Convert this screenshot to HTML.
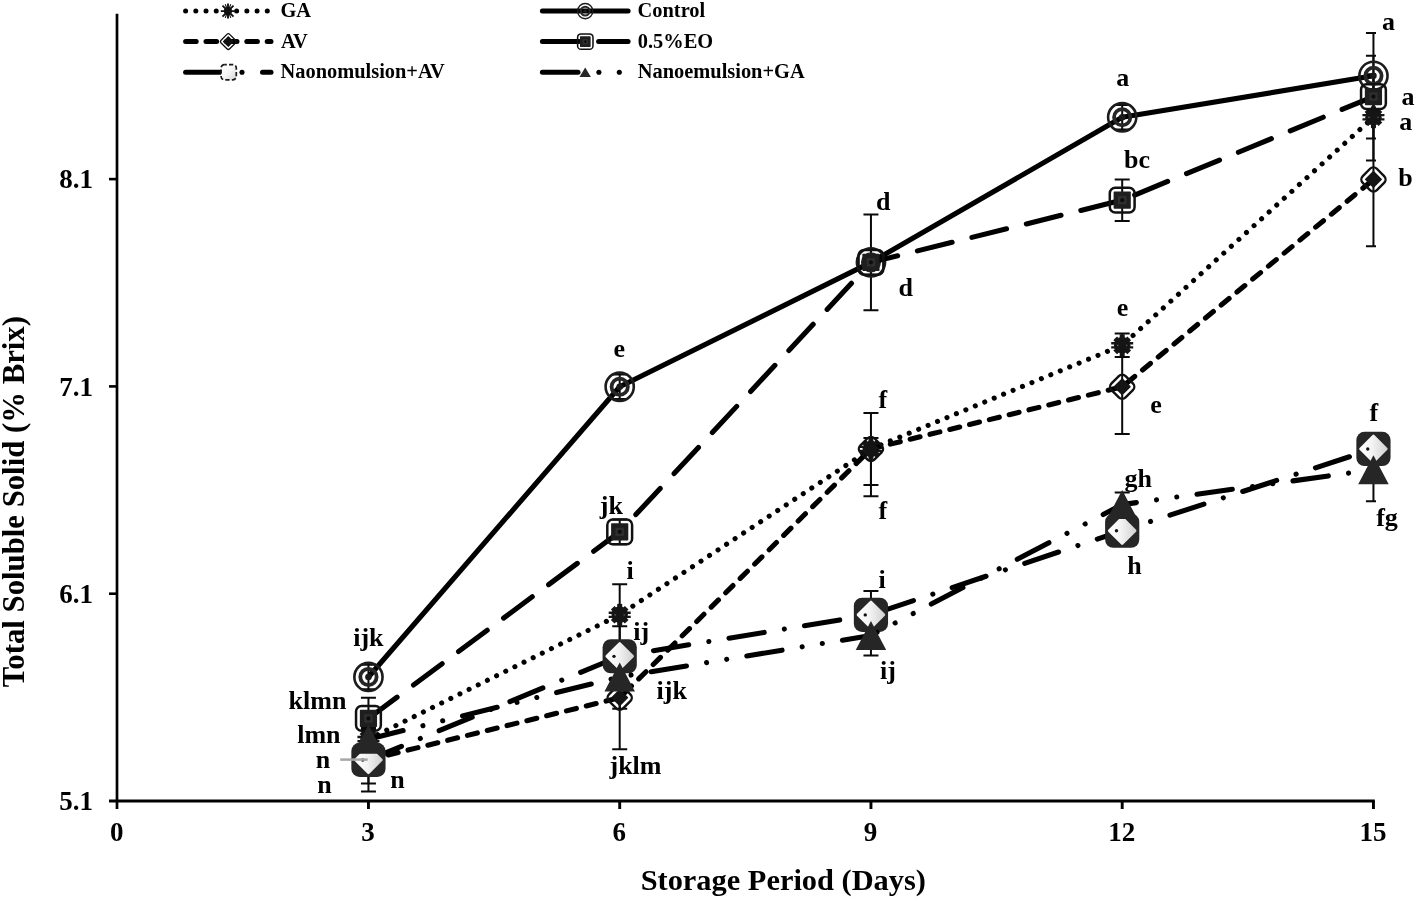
<!DOCTYPE html>
<html lang="en">
<head>
<meta charset="utf-8">
<title>Total Soluble Solid vs Storage Period</title>
<style>
html,body{margin:0;padding:0;background:#fff;}
body{width:1416px;height:900px;overflow:hidden;}
svg{display:block;will-change:transform;font-family:"Liberation Serif",serif;font-weight:bold;fill:#000;}
.tick{font-size:27px;}
.lab{font-size:26px;}
.leg{font-size:20.4px;}
.ttl{font-size:30.4px;}
</style>
</head>
<body>
<svg width="1416" height="900" viewBox="0 0 1416 900">
<defs>
<linearGradient id="dg" x1="0" y1="1" x2="1" y2="0"><stop offset="0" stop-color="#ffffff"/><stop offset="0.45" stop-color="#f4f4f4"/><stop offset="1" stop-color="#cfcfcf"/></linearGradient>
<linearGradient id="lg" x1="0" y1="0" x2="1" y2="1"><stop offset="0" stop-color="#ffffff"/><stop offset="0.5" stop-color="#f6f6f6"/><stop offset="1" stop-color="#d4d4d4"/></linearGradient>
<clipPath id="plot"><rect x="100" y="0" width="1276" height="830"/></clipPath>
</defs>

<g stroke="#000" fill="none">
<path d="M117 13.8V809" stroke-width="2.7"/>
<path d="M109 801H1374.8" stroke-width="3.2"/>
<path d="M109 179.1H117.2" stroke-width="2.6"/>
<path d="M109 386.4H117.2" stroke-width="2.6"/>
<path d="M109 593.7H117.2" stroke-width="2.6"/>
<path d="M368.45 801V809" stroke-width="2.9"/>
<path d="M619.7 801V809" stroke-width="2.9"/>
<path d="M870.95 801V809" stroke-width="2.9"/>
<path d="M1122.2 801V809" stroke-width="2.9"/>
<path d="M1373.45 801V809" stroke-width="2.9"/>
</g>
<g class="tick">
<text x="93" y="188.4" text-anchor="end">8.1</text>
<text x="93" y="395.7" text-anchor="end">7.1</text>
<text x="93" y="603" text-anchor="end">6.1</text>
<text x="93" y="810.3" text-anchor="end">5.1</text>
<text x="116.8" y="841" text-anchor="middle">0</text>
<text x="368.05" y="841" text-anchor="middle">3</text>
<text x="619.3" y="841" text-anchor="middle">6</text>
<text x="870.55" y="841" text-anchor="middle">9</text>
<text x="1121.8" y="841" text-anchor="middle">12</text>
<text x="1373.05" y="841" text-anchor="middle">15</text>
</g>
<text class="ttl" x="783.3" y="889.6" text-anchor="middle">Storage Period (Days)</text>
<text class="ttl" style="font-size:30.75px" transform="translate(23.6 501.7) rotate(-90)" text-anchor="middle">Total Soluble Solid (% Brix)</text>
<g stroke="#0a0a0a" stroke-width="2" fill="none" clip-path="url(#plot)">
<path d="M368.45 729.16V749.16M360.95 729.16H375.95M360.95 749.16H375.95"/>
<path d="M619.7 584.18V645.38M612.2 584.18H627.2M612.2 645.38H627.2"/>
<path d="M870.95 412.94V484.94M863.45 412.94H878.45M863.45 484.94H878.45"/>
<path d="M1122.2 333.49V357.09M1114.7 333.49H1129.7M1114.7 357.09H1129.7"/>
<path d="M1373.45 74.26V160.46M1365.95 74.26H1380.95M1365.95 160.46H1380.95"/>
<path d="M368.45 664.77V689.17M360.95 664.77H375.95M360.95 689.17H375.95"/>
<path d="M619.7 374.55V398.95M612.2 374.55H627.2M612.2 398.95H627.2"/>
<path d="M870.95 214.57V310.17M863.45 214.57H878.45M863.45 310.17H878.45"/>
<path d="M1122.2 105.06V129.46M1114.7 105.06H1129.7M1114.7 129.46H1129.7"/>
<path d="M1373.45 33.1V118.5M1365.95 33.1H1380.95M1365.95 118.5H1380.95"/>
<path d="M368.45 728.19V791.59M360.95 728.19H375.95M360.95 791.59H375.95"/>
<path d="M619.7 646.7V749.2M612.2 646.7H627.2M612.2 749.2H627.2"/>
<path d="M870.95 437.94V496.34M863.45 437.94H878.45M863.45 496.34H878.45"/>
<path d="M1122.2 339.45V434.05M1114.7 339.45H1129.7M1114.7 434.05H1129.7"/>
<path d="M1373.45 112.65V246.25M1365.95 112.65H1380.95M1365.95 246.25H1380.95"/>
<path d="M368.45 697.73V739.13M360.95 697.73H375.95M360.95 739.13H375.95"/>
<path d="M619.7 519.56V544.16M612.2 519.56H627.2M612.2 544.16H627.2"/>
<path d="M870.95 250.07V274.67M863.45 250.07H878.45M863.45 274.67H878.45"/>
<path d="M1122.2 179.38V220.98M1114.7 179.38H1129.7M1114.7 220.98H1129.7"/>
<path d="M1373.45 55.73V138.53M1365.95 55.73H1380.95M1365.95 138.53H1380.95"/>
<path d="M368.45 736.19V783.59M360.95 736.19H375.95M360.95 783.59H375.95"/>
<path d="M619.7 626.24V686.24M612.2 626.24H627.2M612.2 686.24H627.2"/>
<path d="M870.95 591.08V638.48M863.45 591.08H878.45M863.45 638.48H878.45"/>
<path d="M1122.2 520.72V540.72M1114.7 520.72H1129.7M1114.7 540.72H1129.7"/>
<path d="M1373.45 438.94V458.94M1365.95 438.94H1380.95M1365.95 458.94H1380.95"/>
<path d="M368.45 727.16V751.16M360.95 727.16H375.95M360.95 751.16H375.95"/>
<path d="M619.7 664.97V708.77M612.2 664.97H627.2M612.2 708.77H627.2"/>
<path d="M870.95 623.51V655.51M863.45 623.51H878.45M863.45 655.51H878.45"/>
<path d="M1122.2 492.6V516.6M1114.7 492.6H1129.7M1114.7 516.6H1129.7"/>
<path d="M1373.45 457.67V501.37M1365.95 457.67H1380.95M1365.95 501.37H1380.95"/>
</g>
<polyline points="368.45,739.16 619.7,614.78 870.95,448.94 1122.2,345.29 1373.45,117.26" fill="none" stroke="#000" stroke-width="5.1" stroke-linecap="round" stroke-linejoin="round" stroke-dasharray="0.01 10.2"/>
<g transform="translate(368.45 739.16)"><circle r="8.2" fill="#151515"/><rect x="-2.5" y="-10.9" width="5" height="21.8" fill="#151515"/><path d="M-11-3.3H11V-0.9H-11ZM-11 0.9H11V3.3H-11Z" fill="#151515"/><path d="M-7-7L7 7M-7 7L7-7" stroke="#151515" stroke-width="5.2" fill="none"/><rect x="-5.2" y="-0.6" width="1.4" height="1.4" fill="#666"/><rect x="3.8" y="-0.6" width="1.4" height="1.4" fill="#555"/></g>
<g transform="translate(619.7 614.78)"><circle r="8.2" fill="#151515"/><rect x="-2.5" y="-10.9" width="5" height="21.8" fill="#151515"/><path d="M-11-3.3H11V-0.9H-11ZM-11 0.9H11V3.3H-11Z" fill="#151515"/><path d="M-7-7L7 7M-7 7L7-7" stroke="#151515" stroke-width="5.2" fill="none"/><rect x="-5.2" y="-0.6" width="1.4" height="1.4" fill="#666"/><rect x="3.8" y="-0.6" width="1.4" height="1.4" fill="#555"/></g>
<g transform="translate(870.95 448.94)"><circle r="8.2" fill="#151515"/><rect x="-2.5" y="-10.9" width="5" height="21.8" fill="#151515"/><path d="M-11-3.3H11V-0.9H-11ZM-11 0.9H11V3.3H-11Z" fill="#151515"/><path d="M-7-7L7 7M-7 7L7-7" stroke="#151515" stroke-width="5.2" fill="none"/><rect x="-5.2" y="-0.6" width="1.4" height="1.4" fill="#666"/><rect x="3.8" y="-0.6" width="1.4" height="1.4" fill="#555"/></g>
<g transform="translate(1122.2 345.29)"><circle r="8.2" fill="#151515"/><rect x="-2.5" y="-10.9" width="5" height="21.8" fill="#151515"/><path d="M-11-3.3H11V-0.9H-11ZM-11 0.9H11V3.3H-11Z" fill="#151515"/><path d="M-7-7L7 7M-7 7L7-7" stroke="#151515" stroke-width="5.2" fill="none"/><rect x="-5.2" y="-0.6" width="1.4" height="1.4" fill="#666"/><rect x="3.8" y="-0.6" width="1.4" height="1.4" fill="#555"/></g>
<g transform="translate(1373.45 117.26)"><circle r="8.2" fill="#151515"/><rect x="-2.5" y="-10.9" width="5" height="21.8" fill="#151515"/><path d="M-11-3.3H11V-0.9H-11ZM-11 0.9H11V3.3H-11Z" fill="#151515"/><path d="M-7-7L7 7M-7 7L7-7" stroke="#151515" stroke-width="5.2" fill="none"/><rect x="-5.2" y="-0.6" width="1.4" height="1.4" fill="#666"/><rect x="3.8" y="-0.6" width="1.4" height="1.4" fill="#555"/></g>
<polyline points="368.45,676.97 619.7,386.75 870.95,262.37 1122.2,117.26 1373.45,75.8" fill="none" stroke="#000" stroke-width="5.1" stroke-linecap="round" stroke-linejoin="round"/>
<g transform="translate(368.45 676.97)"><circle r="14.1" fill="none" stroke="#1c1c1c" stroke-width="2.6"/><circle r="8.15" fill="none" stroke="#262626" stroke-width="3.8"/><circle r="3.3" fill="#1a1a1a"/></g>
<g transform="translate(619.7 386.75)"><circle r="14.1" fill="none" stroke="#1c1c1c" stroke-width="2.6"/><circle r="8.15" fill="none" stroke="#262626" stroke-width="3.8"/><circle r="3.3" fill="#1a1a1a"/></g>
<g transform="translate(870.95 262.37)"><circle r="14.1" fill="none" stroke="#1c1c1c" stroke-width="2.6"/><circle r="8.15" fill="none" stroke="#262626" stroke-width="3.8"/><circle r="3.3" fill="#1a1a1a"/></g>
<g transform="translate(1122.2 117.26)"><circle r="14.1" fill="none" stroke="#1c1c1c" stroke-width="2.6"/><circle r="8.15" fill="none" stroke="#262626" stroke-width="3.8"/><circle r="3.3" fill="#1a1a1a"/></g>
<g transform="translate(1373.45 75.8)"><circle r="14.1" fill="none" stroke="#1c1c1c" stroke-width="2.6"/><circle r="8.15" fill="none" stroke="#262626" stroke-width="3.8"/><circle r="3.3" fill="#1a1a1a"/></g>
<polyline points="368.45,759.89 619.7,697.7 870.95,448.94 1122.2,386.75 1373.45,179.45" fill="none" stroke="#000" stroke-width="5.1" stroke-linecap="round" stroke-linejoin="round" stroke-dasharray="10.2 10.2"/>
<g transform="translate(368.45 759.89)"><rect x="-9.95" y="-9.95" width="19.9" height="19.9" rx="4.8" transform="rotate(45)" fill="none" stroke="#111" stroke-width="2.4"/><rect x="-6.2" y="-6.2" width="12.4" height="12.4" rx="0.6" transform="rotate(45)" fill="#141414"/></g>
<g transform="translate(619.7 697.7)"><rect x="-9.95" y="-9.95" width="19.9" height="19.9" rx="4.8" transform="rotate(45)" fill="none" stroke="#111" stroke-width="2.4"/><rect x="-6.2" y="-6.2" width="12.4" height="12.4" rx="0.6" transform="rotate(45)" fill="#141414"/></g>
<g transform="translate(870.95 448.94)"><rect x="-9.95" y="-9.95" width="19.9" height="19.9" rx="4.8" transform="rotate(45)" fill="none" stroke="#111" stroke-width="2.4"/><rect x="-6.2" y="-6.2" width="12.4" height="12.4" rx="0.6" transform="rotate(45)" fill="#141414"/></g>
<g transform="translate(1122.2 386.75)"><rect x="-9.95" y="-9.95" width="19.9" height="19.9" rx="4.8" transform="rotate(45)" fill="none" stroke="#111" stroke-width="2.4"/><rect x="-6.2" y="-6.2" width="12.4" height="12.4" rx="0.6" transform="rotate(45)" fill="#141414"/></g>
<g transform="translate(1373.45 179.45)"><rect x="-9.95" y="-9.95" width="19.9" height="19.9" rx="4.8" transform="rotate(45)" fill="none" stroke="#111" stroke-width="2.4"/><rect x="-6.2" y="-6.2" width="12.4" height="12.4" rx="0.6" transform="rotate(45)" fill="#141414"/></g>
<polyline points="368.45,718.43 619.7,531.86 870.95,262.37 1122.2,200.18 1373.45,96.53" fill="none" stroke="#000" stroke-width="5.1" stroke-linecap="round" stroke-linejoin="round" stroke-dasharray="35.7 20.4"/>
<g transform="translate(368.45 718.43)"><rect x="-12.4" y="-12.4" width="24.8" height="24.8" rx="5.5" fill="none" stroke="#111" stroke-width="2.5"/><rect x="-8.6" y="-8.6" width="17.2" height="17.2" rx="0.8" fill="#1e1e1e"/><rect x="-4.2" y="-4.2" width="8.4" height="8.4" fill="#2e2e2e"/><circle r="2.1" fill="#0c0c0c"/></g>
<g transform="translate(619.7 531.86)"><rect x="-12.4" y="-12.4" width="24.8" height="24.8" rx="5.5" fill="none" stroke="#111" stroke-width="2.5"/><rect x="-8.6" y="-8.6" width="17.2" height="17.2" rx="0.8" fill="#1e1e1e"/><rect x="-4.2" y="-4.2" width="8.4" height="8.4" fill="#2e2e2e"/><circle r="2.1" fill="#0c0c0c"/></g>
<g transform="translate(870.95 262.37)"><rect x="-12.4" y="-12.4" width="24.8" height="24.8" rx="5.5" fill="none" stroke="#111" stroke-width="2.5"/><rect x="-8.6" y="-8.6" width="17.2" height="17.2" rx="0.8" fill="#1e1e1e"/><rect x="-4.2" y="-4.2" width="8.4" height="8.4" fill="#2e2e2e"/><circle r="2.1" fill="#0c0c0c"/></g>
<g transform="translate(1122.2 200.18)"><rect x="-12.4" y="-12.4" width="24.8" height="24.8" rx="5.5" fill="none" stroke="#111" stroke-width="2.5"/><rect x="-8.6" y="-8.6" width="17.2" height="17.2" rx="0.8" fill="#1e1e1e"/><rect x="-4.2" y="-4.2" width="8.4" height="8.4" fill="#2e2e2e"/><circle r="2.1" fill="#0c0c0c"/></g>
<g transform="translate(1373.45 96.53)"><rect x="-12.4" y="-12.4" width="24.8" height="24.8" rx="5.5" fill="none" stroke="#111" stroke-width="2.5"/><rect x="-8.6" y="-8.6" width="17.2" height="17.2" rx="0.8" fill="#1e1e1e"/><rect x="-4.2" y="-4.2" width="8.4" height="8.4" fill="#2e2e2e"/><circle r="2.1" fill="#0c0c0c"/></g>
<polyline points="368.45,759.89 619.7,656.24 870.95,614.78 1122.2,530.72 1373.45,448.94" fill="none" stroke="#000" stroke-width="5.1" stroke-linecap="round" stroke-linejoin="round" stroke-dasharray="35.7 20.4 0.01 20.4"/>
<g transform="translate(368.45 759.89)"><rect x="-17.1" y="-17.1" width="34.2" height="34.2" rx="8.2" fill="#262626"/><rect x="-10.45" y="-10.45" width="20.9" height="20.9" rx="1.3" transform="rotate(45)" fill="url(#dg)"/><circle cx="-5.7" cy="0.1" r="1.7" fill="#111"/></g>
<g transform="translate(619.7 656.24)"><rect x="-17.1" y="-17.1" width="34.2" height="34.2" rx="8.2" fill="#262626"/><rect x="-10.45" y="-10.45" width="20.9" height="20.9" rx="1.3" transform="rotate(45)" fill="url(#dg)"/><circle cx="-5.7" cy="0.1" r="1.7" fill="#111"/></g>
<g transform="translate(870.95 614.78)"><rect x="-17.1" y="-17.1" width="34.2" height="34.2" rx="8.2" fill="#262626"/><rect x="-10.45" y="-10.45" width="20.9" height="20.9" rx="1.3" transform="rotate(45)" fill="url(#dg)"/><circle cx="-5.7" cy="0.1" r="1.7" fill="#111"/></g>
<g transform="translate(1122.2 530.72)"><rect x="-17.1" y="-17.1" width="34.2" height="34.2" rx="8.2" fill="#262626"/><rect x="-10.45" y="-10.45" width="20.9" height="20.9" rx="1.3" transform="rotate(45)" fill="url(#dg)"/><circle cx="-5.7" cy="0.1" r="1.7" fill="#111"/></g>
<g transform="translate(1373.45 448.94)"><rect x="-17.1" y="-17.1" width="34.2" height="34.2" rx="8.2" fill="#262626"/><rect x="-10.45" y="-10.45" width="20.9" height="20.9" rx="1.3" transform="rotate(45)" fill="url(#dg)"/><circle cx="-5.7" cy="0.1" r="1.7" fill="#111"/></g>
<polyline points="368.45,739.16 619.7,676.97 870.95,635.51 1122.2,504.6 1373.45,469.67" fill="none" stroke="#000" stroke-width="5.1" stroke-linecap="round" stroke-linejoin="round" stroke-dasharray="35.7 20.4 0.01 20.4 0.01 20.4"/>
<g transform="translate(368.45 739.16)"><path d="M0-14.5L15.25 14.5H-15.25Z" fill="#262626"/></g>
<g transform="translate(619.7 676.97)"><path d="M0-14.5L15.25 14.5H-15.25Z" fill="#262626"/></g>
<g transform="translate(870.95 635.51)"><path d="M0-14.5L15.25 14.5H-15.25Z" fill="#262626"/></g>
<g transform="translate(1122.2 504.6)"><path d="M0-14.5L15.25 14.5H-15.25Z" fill="#262626"/></g>
<g transform="translate(1373.45 469.67)"><path d="M0-14.5L15.25 14.5H-15.25Z" fill="#262626"/></g>
<path d="M340.2 759.6H367.7" stroke="#a6a6a6" stroke-width="2.5" fill="none"/>
<g class="lab">
<text x="353.2" y="646.4">ijk</text>
<text x="288.6" y="709">klmn</text>
<text x="297.2" y="743">lmn</text>
<text x="315.8" y="768.4">n</text>
<text x="317.3" y="793">n</text>
<text x="390.3" y="788">n</text>
<text x="613.6" y="356.6">e</text>
<text x="599.8" y="513.9">jk</text>
<text x="626.4" y="579.2">i</text>
<text x="633.2" y="639.5">ij</text>
<text x="656.5" y="698.7">ijk</text>
<text x="609.5" y="774.4">jklm</text>
<text x="875.9" y="210">d</text>
<text x="898.6" y="296">d</text>
<text x="878.6" y="408.3">f</text>
<text x="878.6" y="518.5">f</text>
<text x="878.6" y="588">i</text>
<text x="880" y="678.5">ij</text>
<text x="1116.3" y="86.2">a</text>
<text x="1124" y="168.4">bc</text>
<text x="1116.8" y="316">e</text>
<text x="1150.2" y="413.3">e</text>
<text x="1124.6" y="486.7">gh</text>
<text x="1127.2" y="574.2">h</text>
<text x="1382" y="29.6">a</text>
<text x="1401.6" y="105.2">a</text>
<text x="1399.2" y="130">a</text>
<text x="1398.2" y="186">b</text>
<text x="1369.6" y="420.6">f</text>
<text x="1376.2" y="526">fg</text>
</g>
<g>
<path d="M185.6 11.1H267.5" fill="none" stroke="#000" stroke-width="5" stroke-linecap="round" stroke-dasharray="0.01 10.2"/>
<g transform="translate(228 11.1)" stroke="#111" stroke-width="1.9" fill="none"><circle r="4" fill="#111" stroke="none"/><path d="M0-7.5V7.5M-7.2 0H7.2M-5.5-5.5L5.5 5.5M-5.5 5.5L5.5-5.5"/><path stroke-width="1.1" d="M-2.8-6.8L2.8 6.8M2.8-6.8L-2.8 6.8"/></g>
<path d="M185.6 41.6H271" fill="none" stroke="#000" stroke-width="5" stroke-linecap="round" stroke-dasharray="10.6 9.8"/>
<g transform="translate(228.3 41.6)"><rect x="-6.1" y="-6.1" width="12.2" height="12.2" rx="2" transform="rotate(45)" fill="none" stroke="#111" stroke-width="1.3"/><rect x="-3.9" y="-3.9" width="7.8" height="7.8" rx="0.4" transform="rotate(45)" fill="#111"/></g>
<path d="M185.6 72.2H222" fill="none" stroke="#000" stroke-width="5" stroke-linecap="round"/>
<circle cx="242" cy="72.2" r="2.55" fill="#000"/>
<path d="M262.5 72.2H271" fill="none" stroke="#000" stroke-width="5" stroke-linecap="round"/>
<rect x="221.1" y="64.6" width="15.2" height="15.2" rx="3.4" fill="url(#lg)" stroke="#1a1a1a" stroke-width="1.7" stroke-dasharray="4.3 2.2" stroke-dashoffset="2"/>
<path d="M542.4 11.1H628.1" fill="none" stroke="#000" stroke-width="5" stroke-linecap="round"/>
<g transform="translate(585.2 11.1) scale(0.54)"><circle r="14.1" fill="none" stroke="#1c1c1c" stroke-width="2.6"/><circle r="8.15" fill="none" stroke="#262626" stroke-width="3.8"/><circle r="3.3" fill="#1a1a1a"/></g>
<path d="M542.4 41.6H579" fill="none" stroke="#000" stroke-width="5" stroke-linecap="round"/>
<path d="M598.6 41.6H628.1" fill="none" stroke="#000" stroke-width="5" stroke-linecap="round"/>
<g transform="translate(585.3 41.6) scale(0.62)"><rect x="-12.4" y="-12.4" width="24.8" height="24.8" rx="5.5" fill="none" stroke="#111" stroke-width="2.5"/><rect x="-8.6" y="-8.6" width="17.2" height="17.2" rx="0.8" fill="#1e1e1e"/><rect x="-4.2" y="-4.2" width="8.4" height="8.4" fill="#2e2e2e"/><circle r="2.1" fill="#0c0c0c"/></g>
<path d="M542.4 72.2H578" fill="none" stroke="#000" stroke-width="5" stroke-linecap="round"/>
<path d="M585.2 67.4L590.9 77H579.5Z" fill="#262626"/>
<circle cx="598.9" cy="72.2" r="2.55" fill="#000"/><circle cx="619.3" cy="72.2" r="2.55" fill="#000"/>
</g>
<g class="leg">
<text x="280.4" y="17.2">GA</text>
<text x="280.9" y="47.6">AV</text>
<text x="280.6" y="77.8">Naonomulsion+AV</text>
<text x="637.6" y="17.2">Control</text>
<text x="637.8" y="47.6">0.5%EO</text>
<text x="637.8" y="77.8">Nanoemulsion+GA</text>
</g>
</svg>
</body>
</html>
